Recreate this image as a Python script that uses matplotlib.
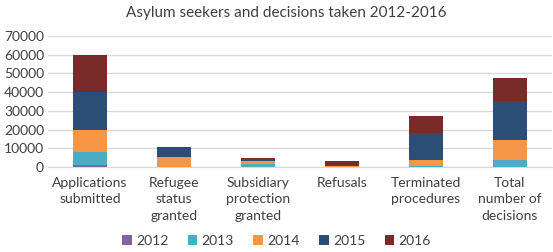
import numpy as np
import matplotlib.pyplot as plt

categories = ["Applications\nsubmitted", "Refugee\nstatus\ngranted", "Subsidiary\nprotection\ngranted",
              "Refusals", "Terminated\nprocedures", "Total\nnumber of\ndecisions"]
years = ["2012", "2013", "2014", "2015", "2016"]
v2012 = [900, 100, 200, 50, 100, 300]
v2013 = [7100, 200, 1600, 100, 300, 3700]
v2014 = [11600, 5000, 1400, 300, 3200, 10500]
v2015 = [20500, 5000, 900, 400, 14800, 21000]
v2016 = [19600, 400, 500, 2500, 8900, 12200]
yticks = [0, 10000, 20000, 30000, 40000, 50000, 60000, 70000]

colors = ["#8064A2", "#4BACC6", "#F79646", "#2C4D75", "#772C2A"]

plt.rcParams['font.family'] = ['Lato', 'DejaVu Sans']
fig = plt.figure(figsize=(5.53, 2.52), dpi=100)
ax = fig.add_axes([0.087, 0.337, 0.911, 0.52])

x = np.arange(len(categories))
bottom = np.zeros(len(categories))
for yr, vals, c in zip(years, [v2012, v2013, v2014, v2015, v2016], colors):
    ax.bar(x, vals, 0.4, bottom=bottom, color=c, label=yr, zorder=3)
    bottom += np.array(vals)

ax.set_xlim(-0.5, 5.5)
ax.set_ylim(0, 70000)
ax.set_yticks(yticks)
ax.set_yticklabels([str(t) for t in yticks], fontsize=10, color="#404040")
ax.set_xticks(x)
ax.set_xticklabels(categories, fontsize=10, color="#404040", linespacing=1.45)
ax.tick_params(axis="y", length=0, pad=3)
ax.tick_params(axis="x", length=0, pad=7)
ax.grid(axis="y", color="#D9D9D9", linewidth=1, zorder=0)
for s in ["top", "right", "left"]:
    ax.spines[s].set_visible(False)
ax.spines["bottom"].set_color("#D9D9D9")

fig.text(0.518, 0.95, "Asylum seekers and decisions taken 2012-2016", fontsize=11,
         color="#404040", ha="center", va="center")

fig.legend(loc="center", bbox_to_anchor=(0.5, 0.045), ncol=5, frameon=False, fontsize=10,
           handlelength=0.7, handleheight=0.7, handletextpad=0.3, columnspacing=1.4,
           labelcolor="#404040")

fig.savefig("out.png", dpi=100)
